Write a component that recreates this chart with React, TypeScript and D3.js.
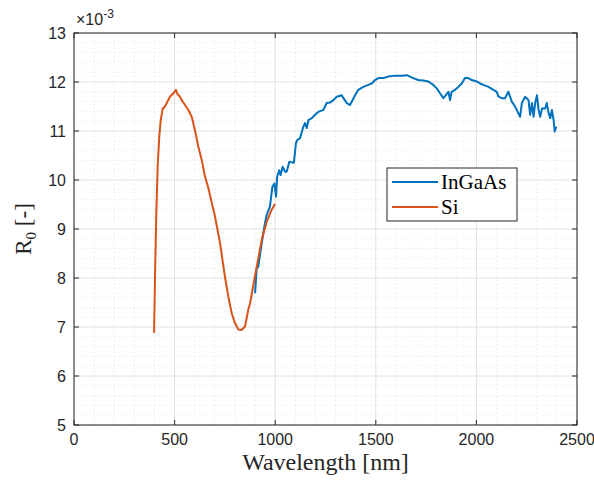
import React from "react";
import * as d3 from "d3";

// wavelength [nm] and R0 [x1e-3]
const siWl = [398, 403, 409, 416, 424, 431, 441, 452, 477, 494, 507, 513, 527, 535, 552, 568, 585, 601, 618, 635, 651, 668, 676, 701, 726, 750, 767, 784, 800, 817, 833, 850, 866, 875, 900, 933, 958, 982, 999];
const siR = [6.88, 8.1, 9.3, 10.3, 10.9, 11.22, 11.46, 11.5, 11.7, 11.77, 11.84, 11.76, 11.7, 11.63, 11.53, 11.43, 11.29, 11.02, 10.68, 10.41, 10.07, 9.83, 9.69, 9.25, 8.71, 8.03, 7.62, 7.28, 7.08, 6.95, 6.94, 7.01, 7.35, 7.48, 8.05, 8.78, 9.15, 9.39, 9.51];

const ingaasWl = [900, 908, 916, 933, 949, 958, 974, 986, 996, 1004, 1010, 1020, 1027, 1037, 1049, 1057, 1070, 1093, 1103, 1110, 1123, 1140, 1148, 1157, 1165, 1181, 1198, 1214, 1239, 1256, 1272, 1289, 1306, 1331, 1339, 1356, 1372, 1397, 1413, 1438, 1463, 1480, 1496, 1513, 1538, 1562, 1595, 1629, 1654, 1670, 1686, 1711, 1736, 1761, 1786, 1803, 1819, 1836, 1861, 1869, 1877, 1894, 1910, 1927, 1943, 1960, 1977, 2002, 2018, 2035, 2060, 2085, 2101, 2110, 2126, 2142, 2159, 2176, 2192, 2209, 2217, 2226, 2242, 2259, 2267, 2276, 2284, 2292, 2301, 2309, 2317, 2326, 2342, 2350, 2359, 2367, 2375, 2384, 2389, 2397];
const ingaasR = [7.69, 8.2, 8.23, 8.71, 9.12, 9.29, 9.46, 9.86, 9.93, 9.66, 10.07, 10.2, 10.1, 10.27, 10.17, 10.17, 10.37, 10.35, 10.75, 10.82, 10.85, 11.09, 11.16, 11.06, 11.22, 11.26, 11.33, 11.39, 11.43, 11.57, 11.58, 11.63, 11.7, 11.73, 11.67, 11.57, 11.53, 11.73, 11.84, 11.9, 11.94, 11.97, 12.04, 12.08, 12.08, 12.11, 12.13, 12.13, 12.14, 12.11, 12.08, 12.04, 12.03, 12.01, 11.94, 11.87, 11.77, 11.67, 11.8, 11.63, 11.8, 11.84, 11.9, 11.97, 12.08, 12.08, 12.04, 12.01, 11.97, 11.94, 11.9, 11.84, 11.8, 11.7, 11.67, 11.67, 11.8, 11.6, 11.5, 11.36, 11.29, 11.57, 11.7, 11.63, 11.33, 11.57, 11.29, 11.57, 11.73, 11.43, 11.29, 11.46, 11.46, 11.57, 11.36, 11.26, 11.43, 11.22, 10.99, 11.09];

const xTicks = [0, 500, 1000, 1500, 2000, 2500];
const yTicks = [5, 6, 7, 8, 9, 10, 11, 12, 13];
const seriesNames = ["InGaAs", "Si"];

const W = 594;
const H = 481;
const m = { left: 74, right: 17, top: 33, bottom: 56 };

export default function App() {
  const x = d3.scaleLinear().domain([0, 2500]).range([m.left, W - m.right]);
  const y = d3.scaleLinear().domain([5, 13]).range([H - m.bottom, m.top]);
  const xMinor = d3.range(0, 2501, 100).filter((v) => v % 500 !== 0);
  const yMinor = d3.range(5, 13.001, 0.2).filter((v) => Math.abs(v - Math.round(v)) > 0.01);

  const line = d3
    .line<[number, number]>()
    .x((d) => x(d[0]))
    .y((d) => y(d[1]));
  const inga = ingaasWl.map((w, i) => [w, ingaasR[i]] as [number, number]);
  const si = siWl.map((w, i) => [w, siR[i]] as [number, number]);

  const axisCol = "#262626";
  const tickFont = "'Liberation Sans', Arial, sans-serif";
  const serif = "'Liberation Serif', 'DejaVu Serif', serif";
  const x0 = m.left, x1 = W - m.right, y0 = H - m.bottom, y1 = m.top;

  const lgX = 387, lgY = 168, lgW = 130, lgH = 53;
  const colors = ["#0072BD", "#D95319"];

  return (
    <svg width={W} height={H} style={{ display: "block", position: "absolute", left: 0, top: 0 }}>
      <rect width={W} height={H} fill="#fff" />
      {/* minor grid */}
      {xMinor.map((v) => (
        <line key={"xm" + v} x1={x(v)} x2={x(v)} y1={y0} y2={y1} stroke="#d0d0d0" strokeWidth={0.6} strokeDasharray="1,3" />
      ))}
      {yMinor.map((v) => (
        <line key={"ym" + v} x1={x0} x2={x1} y1={y(v)} y2={y(v)} stroke="#d0d0d0" strokeWidth={0.6} strokeDasharray="1,3" />
      ))}
      {/* major grid */}
      {xTicks.map((v) => (
        <line key={"xg" + v} x1={x(v)} x2={x(v)} y1={y0} y2={y1} stroke="#e0e0e0" strokeWidth={1} />
      ))}
      {yTicks.map((v) => (
        <line key={"yg" + v} x1={x0} x2={x1} y1={y(v)} y2={y(v)} stroke="#e0e0e0" strokeWidth={1} />
      ))}

      <path d={line(inga) || ""} fill="none" stroke={colors[0]} strokeWidth={2} strokeLinejoin="round" />
      <path d={line(si) || ""} fill="none" stroke={colors[1]} strokeWidth={2} strokeLinejoin="round" />

      {/* box and ticks */}
      <rect x={x0} y={y1} width={x1 - x0} height={y0 - y1} fill="none" stroke={axisCol} strokeWidth={1} />
      {xTicks.map((v) => (
        <g key={"xt" + v}>
          <line x1={x(v)} x2={x(v)} y1={y0} y2={y0 - 5} stroke={axisCol} />
          <line x1={x(v)} x2={x(v)} y1={y1} y2={y1 + 5} stroke={axisCol} />
          <text x={x(v)} y={y0 + 20} textAnchor="middle" fontFamily={tickFont} fontSize={16} fill={axisCol}>
            {v}
          </text>
        </g>
      ))}
      {yTicks.map((v) => (
        <g key={"yt" + v}>
          <line x1={x0} x2={x0 + 5} y1={y(v)} y2={y(v)} stroke={axisCol} />
          <line x1={x1} x2={x1 - 5} y1={y(v)} y2={y(v)} stroke={axisCol} />
          <text x={x0 - 8} y={y(v) + 6} textAnchor="end" fontFamily={tickFont} fontSize={16} fill={axisCol}>
            {v}
          </text>
        </g>
      ))}
      <text x={x0 + 2} y={y1 - 8} fontFamily={tickFont} fontSize={16} fill={axisCol}>
        ×10
        <tspan dy={-7} fontSize={12}>-3</tspan>
      </text>

      <text x={(x0 + x1) / 2} y={H - 11} textAnchor="middle" fontFamily={serif} fontSize={24} fill={axisCol}>
        Wavelength [nm]
      </text>
      <text transform={`translate(31,${(y0 + y1) / 2}) rotate(-90)`} textAnchor="middle" fontFamily={serif} fontSize={23} fill={axisCol}>
        R<tspan dy={5} fontSize={15}>0</tspan>
        <tspan dy={-5}> [-]</tspan>
      </text>

      {/* legend */}
      <rect x={lgX} y={lgY} width={lgW} height={lgH} fill="#fff" stroke={axisCol} strokeWidth={1} />
      {seriesNames.map((n, i) => (
        <g key={n}>
          <line x1={lgX + 5} x2={lgX + 51} y1={lgY + 14 + i * 25} y2={lgY + 14 + i * 25} stroke={colors[i]} strokeWidth={2} />
          <text x={lgX + 54} y={lgY + 21 + i * 25} fontFamily={serif} fontSize={21} fill="#000">
            {n}
          </text>
        </g>
      ))}
    </svg>
  );
}
